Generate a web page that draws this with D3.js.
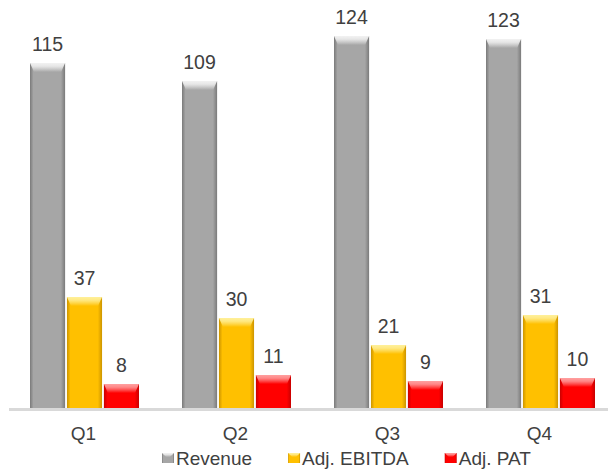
<!DOCTYPE html>
<html>
<head>
<meta charset="utf-8">
<script src="https://cdn.jsdelivr.net/npm/d3@7/dist/d3.min.js"></script>
<style>
  html, body { margin: 0; padding: 0; background: #ffffff; }
  svg { display: block; font-family: "Liberation Sans", Arial, sans-serif; }
</style>
</head>
<body>
<svg id="chart" width="610" height="471"></svg>
<script>
// Quarterly figures
const quarters = ["Q1", "Q2", "Q3", "Q4"];
const seriesNames = ["Revenue", "Adj. EBITDA", "Adj. PAT"];
const revenue = [115, 109, 124, 123];
const adjEbitda = [37, 30, 21, 31];
const adjPat = [8, 11, 9, 10];

const seriesValues = [revenue, adjEbitda, adjPat];
const palette = {
  "Revenue":     { base: "#a6a6a6", edge: "#7a7a7a", light: "#f2f2f2" },
  "Adj. EBITDA": { base: "#ffc000", edge: "#cc9400", light: "#fff09a" },
  "Adj. PAT":    { base: "#ff0000", edge: "#c80000", light: "#ffa0a0" }
};

const svg = d3.select("#chart");
const defs = svg.append("defs");

// Gradients giving each bar a bevelled look
seriesNames.forEach((s, i) => {
  const c = palette[s];
  const side = defs.append("linearGradient").attr("id", "side" + i)
    .attr("x1", "0").attr("x2", "1").attr("y1", "0").attr("y2", "0");
  side.append("stop").attr("offset", "0").attr("stop-color", c.edge);
  side.append("stop").attr("offset", "0.1").attr("stop-color", c.base);
  side.append("stop").attr("offset", "0.88").attr("stop-color", c.base);
  side.append("stop").attr("offset", "1").attr("stop-color", c.edge);
  const top = defs.append("linearGradient").attr("id", "top" + i)
    .attr("x1", "0").attr("x2", "0").attr("y1", "0").attr("y2", "1");
  top.append("stop").attr("offset", "0").attr("stop-color", c.light);
  top.append("stop").attr("offset", "0.35").attr("stop-color", c.light).attr("stop-opacity", 0.85);
  top.append("stop").attr("offset", "1").attr("stop-color", c.base);
});

const x0 = d3.scaleBand().domain(quarters).range([8.5, 616.5]).paddingInner(0).paddingOuter(0);
const x1 = d3.scaleBand().domain(seriesNames).range([21.5, 130.5]).paddingInner(0.05);
const y = d3.scaleLinear().domain([0, 136]).range([408, 0]);

const rows = quarters.map((q, qi) => ({
  q,
  items: seriesNames.map((s, si) => ({ s, si, v: seriesValues[si][qi] }))
}));

// Category axis line
svg.append("line")
  .attr("x1", 9).attr("x2", 608)
  .attr("y1", y(0) + 1.5).attr("y2", y(0) + 1.5)
  .attr("stroke", "#d9d9d9").attr("stroke-width", 3);

const groups = svg.selectAll("g.quarter").data(rows).join("g")
  .attr("class", "quarter")
  .attr("transform", d => `translate(${x0(d.q)},0)`);

const bars = groups.selectAll("g.bar").data(d => d.items).join("g").attr("class", "bar");
const bevel = 9;

bars.append("rect")
  .attr("x", d => x1(d.s))
  .attr("y", d => y(d.v))
  .attr("width", x1.bandwidth())
  .attr("height", d => y(0) - y(d.v))
  .attr("fill", d => `url(#side${d.si})`);

bars.append("polygon")
  .attr("points", d => {
    const l = x1(d.s), r = l + x1.bandwidth(), t = y(d.v);
    return [[l, t], [r, t], [r - 4, t + bevel], [l + 4, t + bevel]]
      .map(p => p.join(",")).join(" ");
  })
  .attr("fill", d => `url(#top${d.si})`);

// Value labels
bars.append("text")
  .attr("x", d => x1(d.s) + x1.bandwidth() / 2)
  .attr("y", d => y(d.v) - 12)
  .attr("text-anchor", "middle")
  .attr("font-size", 19.5)
  .attr("fill", "#404040")
  .text(d => d.v);

// Quarter labels
svg.selectAll("text.cat").data(quarters).join("text")
  .attr("class", "cat")
  .attr("x", d => x0(d) + x0.bandwidth() / 2 - 1)
  .attr("y", 440)
  .attr("text-anchor", "middle")
  .attr("font-size", 19)
  .attr("fill", "#404040")
  .text(d => d);

// Legend
const legend = svg.append("g");
let lx = 162;
seriesNames.forEach((s, i) => {
  const item = legend.append("g");
  item.append("rect").attr("x", lx).attr("y", 453).attr("width", 12).attr("height", 10)
    .attr("fill", `url(#side${i})`);
  item.append("polygon")
    .attr("points", [[lx, 453], [lx + 12, 453], [lx + 8, 457], [lx + 4, 457]].map(p => p.join(",")).join(" "))
    .attr("fill", `url(#top${i})`);
  const t = item.append("text").attr("x", lx + 14).attr("y", 465)
    .attr("font-size", 19).attr("fill", "#404040").text(s);
  lx += 14 + t.node().getComputedTextLength() + 36;
});
</script>
</body>
</html>
